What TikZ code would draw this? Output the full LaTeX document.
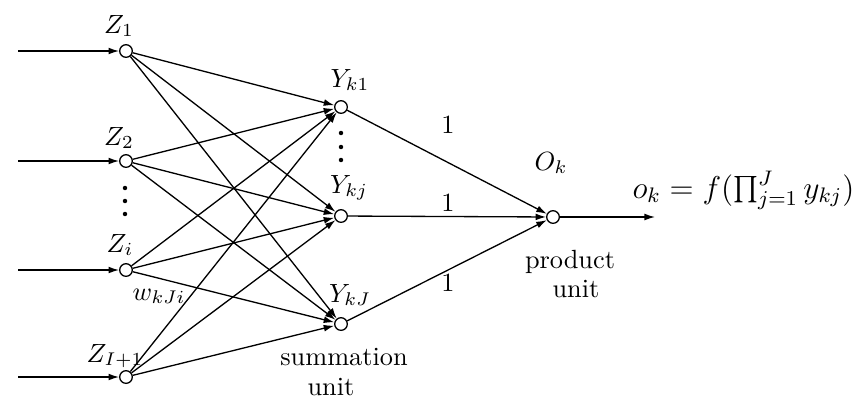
\documentclass[tikz,border=0pt]{standalone}
\usetikzlibrary{arrows.meta}
\begin{document}
\begin{tikzpicture}[x=0.38pt,y=-0.38pt,
  unitnode/.style={circle,draw,fill=white,inner sep=0pt,minimum size=4.8pt,line width=0.5pt},
  conn/.style={line width=0.5pt,-{Latex[length=4pt,width=2.6pt]}},
  dotnode/.style={circle,fill,inner sep=0pt,minimum size=1.7pt},
  lab/.style={inner sep=0pt,anchor=base}]
\useasboundingbox (0,0) rectangle (859,397);
% units
\node[unitnode] (z1) at (126,51) {};
\node[unitnode] (z2) at (126,161) {};
\node[unitnode] (zi) at (126,270) {};
\node[unitnode] (zI) at (126,377) {};
\node[unitnode] (y1) at (341,107) {};
\node[unitnode] (yj) at (341,216) {};
\node[unitnode] (yJ) at (341,324) {};
\node[unitnode] (o) at (553,217) {};
% input ends
\coordinate (in1) at (18,51);
\coordinate (in2) at (18,161);
\coordinate (ini) at (18,270);
\coordinate (inI) at (18,377);
\coordinate (out) at (655,217);
% dots
\node[dotnode] (d1) at (125,188) {};
\node[dotnode] (d2) at (125,201) {};
\node[dotnode] (d3) at (125,214) {};
\node[dotnode] (e1) at (341,133) {};
\node[dotnode] (e2) at (341,147) {};
\node[dotnode] (e3) at (341,160) {};
% labels
\node[lab] (lz1) at (119,33) {$Z_1$};
\node[lab] (lz2) at (119,145) {$Z_2$};
\node[lab] (lzi) at (120,252) {$Z_i$};
\node[lab] (lzI) at (115,362) {$Z_{I+1}$};
\node[lab] (ly1) at (350,87) {$Y_{k1}$};
\node[lab] (lyj) at (349,193) {$Y_{kj}$};
\node[lab] (lyJ) at (350,302) {$Y_{kJ}$};
\node[lab] (lo) at (551,170) {$O_k$};
\node[lab] (w) at (159,300) {$w_{kJi}$};
\node[lab] (one1) at (448,133) {$1$};
\node[lab] (one2) at (448,211) {$1$};
\node[lab] (one3) at (448,291) {$1$};
\node[lab] (s1) at (344,365) {summation};
\node[lab] (s2) at (331,395) {unit};
\node[lab] (p1) at (570,268) {product};
\node[lab] (p2) at (576,297) {unit};
\node[inner sep=0pt,anchor=base west,font=\large] (f) at (632,198) {$o_k = f(\prod_{j=1}^{J} y_{kj})$};
% connectors
\foreach \a/\b in {in1/z1,in2/z2,ini/zi,inI/zI}
  \draw[conn] (\a) -- (\b);
\foreach \z in {z1,z2,zi,zI}
  \foreach \y in {y1,yj,yJ}
    \draw[conn] (\z) -- (\y);
\foreach \y in {y1,yj,yJ}
  \draw[conn] (\y) -- (o);
\draw[conn] (o) -- (out);
\end{tikzpicture}
\end{document}
